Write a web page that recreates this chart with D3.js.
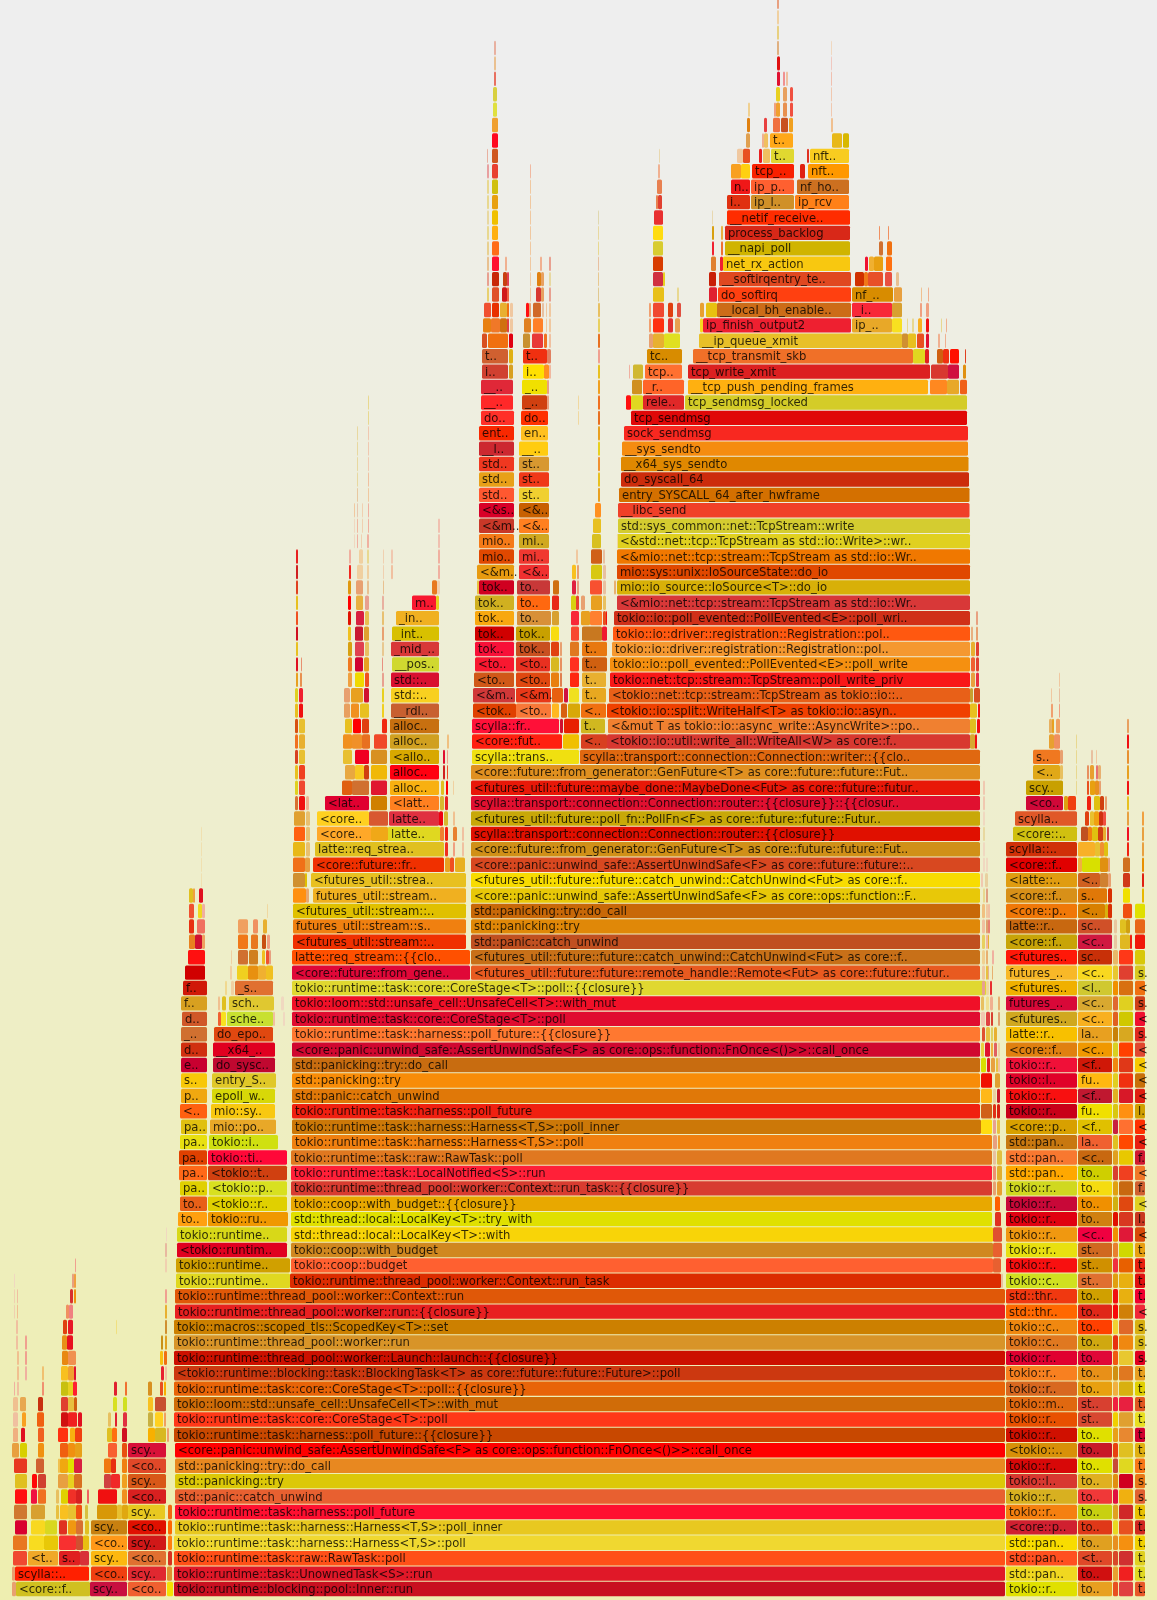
<!DOCTYPE html>
<html><head><meta charset="utf-8">
<script src="https://cdn.jsdelivr.net/npm/d3@7"></script>
<style>html,body{margin:0;padding:0;background:#eee}svg{display:block;filter:blur(0.3px)}</style></head>
<body><svg id="c" width="1157" height="1600"></svg>
<script>
// ---------- long columns: first depth, names, fills, start(s), end(s) (sample offsets) ----------
const lowerNames=["tokio::runtime::blocking::pool::Inner::run","tokio::runtime::task::UnownedTask<S>::run","tokio::runtime::task::raw::RawTask::poll","tokio::runtime::task::harness::Harness<T,S>::poll","tokio::runtime::task::harness::Harness<T,S>::poll_inner","tokio::runtime::task::harness::poll_future","std::panic::catch_unwind","std::panicking::try","std::panicking::try::do_call","<core::panic::unwind_safe::AssertUnwindSafe<F> as core::ops::function::FnOnce<()>>::call_once","tokio::runtime::task::harness::poll_future::{{closure}}","tokio::runtime::task::core::CoreStage<T>::poll","tokio::loom::std::unsafe_cell::UnsafeCell<T>::with_mut","tokio::runtime::task::core::CoreStage<T>::poll::{{closure}}","<tokio::runtime::blocking::task::BlockingTask<T> as core::future::future::Future>::poll","tokio::runtime::thread_pool::worker::Launch::launch::{{closure}}","tokio::runtime::thread_pool::worker::run","tokio::macros::scoped_tls::ScopedKey<T>::set","tokio::runtime::thread_pool::worker::run::{{closure}}","tokio::runtime::thread_pool::worker::Context::run","tokio::runtime::thread_pool::worker::Context::run_task","tokio::coop::budget","tokio::coop::with_budget","std::thread::local::LocalKey<T>::with","std::thread::local::LocalKey<T>::try_with","tokio::coop::with_budget::{{closure}}","tokio::runtime::thread_pool::worker::Context::run_task::{{closure}}","tokio::runtime::task::LocalNotified<S>::run","tokio::runtime::task::raw::RawTask::poll","tokio::runtime::task::harness::Harness<T,S>::poll","tokio::runtime::task::harness::Harness<T,S>::poll_inner","tokio::runtime::task::harness::poll_future","std::panic::catch_unwind","std::panicking::try","std::panicking::try::do_call","<core::panic::unwind_safe::AssertUnwindSafe<F> as core::ops::function::FnOnce<()>>::call_once","tokio::runtime::task::harness::poll_future::{{closure}}","tokio::runtime::task::core::CoreStage<T>::poll","tokio::loom::std::unsafe_cell::UnsafeCell<T>::with_mut","tokio::runtime::task::core::CoreStage<T>::poll::{{closure}}"];
const lowerFills=["#c81020","#e01828","#ff5018","#f0d830","#e8c820","#ff1030","#e86030","#dcc808","#e88820","#ff0000","#c84800","#ff3818","#d06c08","#e86408","#cc3810","#cc1000","#d89428","#cc8000","#e82020","#e05808","#dc2c00","#ff6030","#d08820","#f8d408","#e0e000","#e8a800","#d83c30","#ff2038","#e07820","#f08010","#cc7808","#f02010","#e07808","#f88c08","#c86c10","#d00830","#ff7830","#e00c30","#f01028","#e0d830"];
const lowerStarts=[174,174,174,174,175,175,175,175,175,175,174,174,174,174,174,174,174,174,175,175,290,291,291,291,291,291,291,291,291,292,292,292,292,292,292,292,292,292,292,292];
const lowerEnds=[1005,1005,1005,1005,1005,1005,1005,1005,1005,1005,1005,1005,1005,1005,1005,1005,1005,1005,1005,1005,1001,993,993,993,992,992,992,992,992,992,981,980,980,980,980,980,980,980,980,986];

const upperNames=["<futures_util::future::future::remote_handle::Remote<Fut> as core::future::futur..","<futures_util::future::future::catch_unwind::CatchUnwind<Fut> as core::f..","std::panic::catch_unwind","std::panicking::try","std::panicking::try::do_call","<core::panic::unwind_safe::AssertUnwindSafe<F> as core::ops::function::F..","<futures_util::future::future::catch_unwind::CatchUnwind<Fut> as core::f..","<core::panic::unwind_safe::AssertUnwindSafe<F> as core::future::future::..","<core::future::from_generator::GenFuture<T> as core::future::future::Fut..","scylla::transport::connection::Connection::router::{{closure}}","<futures_util::future::poll_fn::PollFn<F> as core::future::future::Futur..","scylla::transport::connection::Connection::router::{{closure}}::{{closur..","<futures_util::future::maybe_done::MaybeDone<Fut> as core::future::futur..","<core::future::from_generator::GenFuture<T> as core::future::future::Fut.."];
const upperFills=["#e85a20","#c87018","#c05020","#e08808","#c86808","#e8c808","#f8dc00","#d84820","#d09018","#e01000","#c8a808","#e01030","#e81808","#e09020"];

const writeNames=["scylla::transport::connection::Connection::writer::{{clo..","<tokio::io::util::write_all::WriteAll<W> as core::f..","<&mut T as tokio::io::async_write::AsyncWrite>::po..","<tokio::io::split::WriteHalf<T> as tokio::io::asyn..","<tokio::net::tcp::stream::TcpStream as tokio::io::..","tokio::net::tcp::stream::TcpStream::poll_write_priv","tokio::io::poll_evented::PollEvented<E>::poll_write","tokio::io::driver::registration::Registration::pol..","tokio::io::driver::registration::Registration::pol..","tokio::io::poll_evented::PollEvented<E>::poll_wri..","<&mio::net::tcp::stream::TcpStream as std::io::Wr..","mio::io_source::IoSource<T>::do_io","mio::sys::unix::IoSourceState::do_io","<&mio::net::tcp::stream::TcpStream as std::io::Wr..","<&std::net::tcp::TcpStream as std::io::Write>::wr..","std::sys_common::net::TcpStream::write","__libc_send","entry_SYSCALL_64_after_hwframe","do_syscall_64","__x64_sys_sendto","__sys_sendto","sock_sendmsg","tcp_sendmsg","tcp_sendmsg_locked"];
const writeFills=["#e06810","#d83830","#f08030","#f04000","#e86018","#f81818","#f59010","#f59830","#ff5810","#d03018","#d83838","#d8b008","#e04800","#f07800","#e0d020","#d4cc30","#f04028","#d47000","#cc2c0c","#e08800","#f58c10","#f82820","#e00808","#d4cc28"];
const writeStarts=[580,607,608,607,609,610,610,612,613,614,617,617,617,617,617,618,618,619,621,621,622,624,631,685];
const writeEnds=[980,970,970,970,970,970,970,970,970,970,970,970,970,970,970,970,969.5,969.5,969,968.5,968,968,967,967];

const workerNames=["tokio::runtime..","tokio::runtime..","<tokio::runtim..","tokio::runtime..","to..","to..","pa..","pa..","pa..","pa..","pa..","<..","p..","s..","e..","d..","_..","d..","f..","f..",""];
const workerFills=["#e0d820","#d0a000","#e00020","#d8d818","#ffa010","#e86018","#e0d000","#ff6818","#e04000","#e8e010","#e0c010","#ff6010","#f0a810","#f8c808","#c80030","#d03010","#d07030","#d05828","#d8a020","#d01808","#d00000"];
const workerStarts=[176,176,177,177,178,180,180,179,179,180,181,180,181,181,181,181,181,182,181,183,185];
const workerEnds=[290,290,287,287,207,207,207,207,207,207,207,207,207,207,207,207,207,207,207,207,205];

const pollNames=["tokio::ru..","<tokio::r..","<tokio::p..","<tokio::t..","tokio::ti..","tokio::i..","mio::po..","mio::sy..","epoll_w..","entry_S..","do_sysc..","__x64_..","do_epo.."];
const pollFills=["#f09800","#e0d000","#d8e020","#d04010","#ff0838","#d0e010","#e8a828","#f8c810","#d8d808","#e0c828","#c00830","#e00020","#e04810"];
const pollStarts=[208,208,209,208,208,209,210,211,212,212,213,213,214];
const pollEnds=[288,287,287,287,287,278,276,275,275,276,275,275,273];

const rightANames=["tokio::r..","std::pan..","std::pan..","std::pan..","<core::p..","tokio::r..","tokio::r..","tokio::l..","tokio::r..","<tokio::..","tokio::r..","tokio::r..","tokio::m..","tokio::r..","tokio::r..","tokio::r..","tokio::c..","tokio::c..","std::thr..","std::thr..","tokio::c..","tokio::r..","tokio::r..","tokio::r..","tokio::r..","tokio::r..","tokio::r..","std::pan..","std::pan..","std::pan..","<core::p..","tokio::r..","tokio::r..","tokio::l..","tokio::r..","<core::f..","latte::r..","<futures..","futures_..","<futures..","futures_..","<futures..","<core::f..","latte::r..","<core::p..","<core::f..","<latte::..","<core::f..","scylla::.."];
const rightAFills=["#e0e000","#f0d820","#ff5020","#f8dc00","#d02030","#f58010","#d8b020","#d83830","#d80808","#d89008","#d01000","#e85000","#e06810","#d86820","#f88020","#e00030","#e07820","#f08810","#ff6800","#f03810","#d0e020","#f81010","#e8e010","#f09810","#e00010","#c80838","#d0d820","#ffa800","#f87830","#c87810","#d8a000","#c80018","#f81010","#e00028","#f01038","#e08010","#f8c000","#d0a820","#d80838","#f0b000","#f8b828","#ff1808","#c8a408","#c86810","#f07808","#d89018","#e09c10","#e00000","#d03008"];

const rightBNames=["to..","to..","<t..","to..","to..","to..","to..","to..","to..","to..","to..","st..","st..","to..","to..","to..","to..","to..","to..","to..","st..","st..","st..","<c..","to..","to..","to..","to..","<c..","la..","<f..","fu..","<f..","fu..","<f..","<c..","la..","<c..","<c..","<l..","<c..","sc..","<c..","sc.."];
const rightBFills=["#e8a020","#d01010","#e04828","#e0a020","#e03818","#c8d010","#f03838","#e0b020","#e0e000","#c81828","#e0e000","#d84830","#d84030","#e8a010","#e89018","#e00838","#d0a810","#ff4000","#e02818","#d0a000","#e07030","#d09000","#d06820","#f00040","#d08010","#f09000","#f5dc10","#cfcf00","#c86810","#f06030","#e0c000","#f0e000","#c01830","#ffb810","#d01808","#f09800","#e8a020","#f8b020","#d8a830","#d0c830","#f8d820","#c83008","#d01840","#d05028"];

const rightCFills=["#e85020","#e8a030","#d84828","#e89020","#e8d820","#e0a020","#e01040","#e09010","#c84838","#e84010","#e8a018","#f0d000","#f02040","#f0b040","#d09010","#f05810","#e83010","#f0d030","#f80808","#f01010","#e0a010","#f03040","#e88030","#f09000","#e01000","#d0b010","#e0a010","#d84030","#e0a020","#e0c020","#c82040","#d8c810","#e0b020","#e0d020","#f08810","#d8d020","#c88008","#e06020","#e06830","#f09000","#e8c830","#e8b868"];
const rightDFills=["#e04040","#f02020","#d03030","#f59010","#e85020","#d02828","#f0b010","#d00020","#e0d820","#e0c020","#e88830","#e0a030","#e82040","#d8b010","#e07820","#e8c830","#f08810","#e06828","#d08008","#e8b010","#e8b010","#e86000","#d0d800","#e01838","#d83820","#e04810","#c86810","#f04020","#e8c800","#ff4800","#ff7030","#ff9010","#d81828","#f03010","#e03818","#ff4000","#d8a820","#d0c800","#e0d020","#d87010","#e04030","#ff3818"];
const rightENames=["t.","t.","t.","t.","t.","t.","s.","s.","t.","t.","t.","t.","t.","t.","t.","s.","s.","s.","<","t.","t.","t.","t.","<","l.","<","f.","<","f.","<","<","l.","<","<","<","<","s.","<","s.","<","s.","","","",""];
const rightEFills=["#e85828","#e0d820","#e0d020","#f0d000","#d02820","#e8c000","#e06030","#e87818","#f87818","#e0b010","#d00030","#e8e020","#e05820","#e0d000","#e8a020","#e00020","#d8b818","#d8b010","#f02838","#f00030","#e01010","#e82010","#e8a010","#d84808","#c83820","#e0d020","#d06030","#f07828","#d01830","#e82010","#ff3000","#d0a000","#e02010","#c87008","#f8c800","#e04830","#e02820","#f01030","#d04018","#f07010","#d8c820","#d8c808","#f01808","#e86818","#e0e000"];

// ---------- short runs: one line per depth -> [depth, [start,end,name?], ...]; the fills table below has the same lines ----------
const midRows=[
[0,[12,16],[16,90,"<core::f.."],[90,127,"scy.."],[128,166,"<co.."],[167,173]],
[1,[12,15],[15,89,"scylla::.."],[91,127,"<co.."],[128,166,"scy.."],[167,172]],
[2,[13,27],[28,58,"<t.."],[59,80,"s.."],[80,89],[91,127,"scy.."],[128,166,"<co.."],[168,172]],
[3,[13,27],[29,44],[44,58],[59,76],[76,83],[83,89],[91,127,"<co.."],[128,166,"scy.."],[168,172]],
[4,[15,27],[31,45],[45,57],[59,67],[68,76],[76,83],[85,89],[91,127,"scy.."],[128,166,"<co.."],[168,172]],
[5,[14,27],[31,45],[56,59],[60,68],[68,76],[76,82],[85,88],[97,117],[117,122],[122,128],[128,165,"scy.."],[168,172]],
[6,[15,27],[31,37],[38,46],[56,59],[61,68],[68,76],[76,82],[87,89],[98,117],[122,127],[128,166,"<co.."]],
[7,[15,27],[32,37],[38,46],[58,68],[68,74],[74,82],[104,111],[111,120],[122,127],[128,166,"scy.."]],
[8,[14,27],[36,44],[58,60],[60,68],[68,74],[74,82],[104,111],[111,116],[122,127],[128,166,"<co.."]],
[9,[12,19],[20,27],[38,44],[60,68],[68,75],[75,82],[108,117],[122,127],[128,166,"scy.."]],
[10,[13,18],[21,25],[38,44],[58,68],[70,75],[75,82],[107,112],[112,117],[122,127],[148,155],[155,166],[167,169]],
[11,[13,18],[22,26],[37,44],[61,68],[68,77],[78,82],[108,111],[115,117],[123,127],[148,153],[155,163],[164,166]],
[12,[13,18],[20,26],[38,43],[61,68],[68,74],[74,77],[113,117],[123,127],[148,153],[155,166]],
[13,[14,15],[17,19],[42,44],[61,68],[68,73],[73,77],[114,117],[125,127],[148,152],[160,163],[164,166]],
[14,[17,19],[25,27],[42,44],[61,68],[68,74],[74,76],[161,164],[165,167]],
[15,[17,19],[25,27],[62,68],[68,76],[160,163],[164,167]],
[16,[16,18],[25,27],[62,67],[67,73],[161,163],[165,167]],
[17,[16,18],[63,67],[68,73],[116,117],[165,167]],
[18,[14,15],[17,18],[66,69],[69,73],[165,167]],
[19,[14,15],[17,18],[70,73],[74,76],[165,167]],
[20,[14,15],[72,74],[74,76]],
[21,[75,76],[165,167]],
[22,[165,167]],
[23,[166,167]],
// beside the main stack, right edge
[20,[1001,1003]],
[21,[993,1001]],
[22,[993,1002]],
[23,[993,1002]],
[24,[995,1001]],
[25,[995,1000]],
[26,[993,996],[997,1002]],
[27,[993,996],[997,1002]],
[28,[993,996],[997,1002]],
[29,[993,997],[998,1000]],
[30,[981,992],[993,996],[997,1000]],
[31,[981,992],[993,996],[997,1000]],
[32,[981,992],[993,996],[997,1000]],
[33,[981,992],[995,1000]],
[34,[981,986],[987,990],[991,995],[996,998],[998,1000]],
[35,[981,984],[985,990],[991,993],[994,997],[998,1000]],
[36,[982,985],[986,990],[991,993],[994,997]],
[37,[981,985],[986,990],[991,993],[998,1000]],
[38,[981,984],[986,989],[990,993],[998,1000]],
[39,[982,985],[986,989],[990,992]],
[40,[982,985],[986,988],[988,989],[992,993]],
[41,[982,985],[986,988],[992,994]],
[42,[982,985],[986,988],[988,989]],
[43,[982,985],[986,988],[988,990]],
[44,[982,985],[986,988],[988,990]],
[45,[983,985],[986,988]],
[46,[981,983],[985,988]],
[47,[983,985],[986,988]],
[48,[983,985]],[49,[983,985]],[50,[983,985]],[51,[983,985]],[52,[983,985]],
// worker / epoll tower tops
[37,[218,221],[221,226],[227,273,"sche.."],[273,275],[283,285]],
[38,[218,220],[222,226],[229,274,"sch.."],[281,284]],
[39,[225,227],[231,234],[235,273,"_s.."]],
[40,[230,232],[237,248],[248,258],[258,266],[266,273]],
[41,[188,205],[231,232],[238,248],[249,258],[262,265],[266,269],[269,271]],
[42,[189,195],[195,202],[202,205],[238,248],[251,258],[262,266],[267,270]],
[43,[189,194],[197,205],[238,248],[253,258],[263,267]],
[44,[189,194],[198,202],[202,205],[267,268]],
[45,[189,193],[193,195],[199,203]],
[46,[201,202]],[47,[201,202]],[48,[201,202]],[49,[201,202]],
// latte stack
[40,[292,470,"<core::future::from_gene.."]],
[41,[292,470,"latte::req_stream::{{clo.."]],
[42,[293,466,"<futures_util::stream::.."]],
[43,[293,466,"futures_util::stream::s.."]],
[44,[293,466,"<futures_util::stream::.."]],
[45,[293,306],[306,309],[313,466,"futures_util::stream.."]],
[46,[293,305],[305,307],[311,466,"<futures_util::strea.."]],
[47,[293,305],[305,310],[313,444,"<core::future::fr.."],[445,450],[450,454],[455,465]],
[48,[293,305],[306,310],[315,444,"latte::req_strea.."],[445,448],[453,455],[462,464]],
[49,[294,305],[306,310],[317,371,"<core.."],[371,388],[388,440,"latte.."],[440,444],[445,448],[453,457],[462,464]],
[50,[294,305],[306,310],[317,369,"<core.."],[369,388],[389,439,"latte.."],[439,443],[444,448],[453,455]],
[51,[295,298],[299,305],[306,309],[325,369,"<lat.."],[371,387],[390,439,"<latt.."],[440,444],[445,448]],
[52,[295,298],[299,305],[342,352],[352,369],[371,387],[390,439,"alloc.."],[441,444],[446,448],[453,454]],
[53,[295,298],[299,305],[345,355],[355,364],[364,369],[371,387],[390,439,"alloc.."],[443,445],[447,448]],
[54,[295,298],[299,305],[343,352],[355,369],[371,387],[390,439,"<allo.."],[443,445],[447,448]],
[55,[295,298],[299,305],[343,352],[352,362],[362,370],[374,387],[390,439,"alloc.."],[447,449]],
[56,[295,298],[299,305],[345,352],[353,361],[362,369],[382,387],[390,439,"alloc.."]],
[57,[295,298],[299,303],[344,350],[351,359],[360,369],[382,384],[391,439,"__rdl.."]],
[58,[295,298],[299,303],[344,350],[351,363],[364,369],[382,384],[391,439,"std::.."]],
[59,[296,298],[300,302],[348,352],[355,364],[365,369],[382,384],[391,439,"std::.."]],
[60,[296,298],[301,302],[348,352],[355,363],[364,369],[382,383],[392,439,"__pos.."]],
[61,[296,298],[348,352],[355,364],[365,369],[382,384],[391,439,"_mid_.."]],
[62,[296,298],[348,351],[355,363],[364,369],[382,384],[392,439,"_int.."]],
[63,[296,298],[348,351],[356,364],[365,369],[382,384],[396,439,"_in.."]],
[64,[296,298],[348,351],[356,363],[365,369],[382,384],[412,436,"m.."],[436,439]],
[65,[296,298],[348,351],[356,363],[367,369],[383,384],[432,437],[437,440]],
[66,[296,298],[349,351],[357,363],[367,369],[383,384],[391,393],[438,440]],
[67,[296,298],[349,351],[359,363],[367,369],[383,384],[391,393],[438,440]],
[68,[354,355],[357,358],[361,362],[367,369],[438,440]],
[69,[354,355],[357,358],[362,363],[368,369],[438,440]],
[70,[354,355],[357,358],[362,363],[368,369]],
[71,[357,358],[368,369]],[72,[357,358],[368,369]],[73,[357,358],[368,369]],[74,[357,358],[368,369]],[75,[357,358],[368,369]],
[76,[368,369]],[77,[368,369]],
// scylla read towers
[54,[472,579,"scylla::trans.."]],
[55,[472,562,"<core::fut.."],[563,579],[581,607,"<.."],[970,975],[975,977]],
[56,[472,559,"scylla::fr.."],[560,563],[564,579],[581,605,"t.."],[970,976],[977,980]],
[57,[473,516,"<tok.."],[516,551,"<to.."],[552,559],[561,567],[568,580],[581,606,"<.."],[970,977],[978,980]],
[58,[473,515,"<&m.."],[516,551,"<&m."],[552,563],[564,568],[569,579],[582,606,"t.."],[970,973],[974,980]],
[59,[474,514,"<to.."],[516,550,"<to.."],[551,559],[560,562],[570,579],[582,606,"t.."],[971,975],[976,979]],
[60,[475,514,"<to.."],[516,550,"<to.."],[551,559],[560,562],[570,579],[582,607,"t.."],[971,975],[976,979]],
[61,[475,514,"tok.."],[516,550,"tok.."],[551,559],[560,562],[570,579],[582,607,"t.."],[971,975],[976,979]],
[62,[475,514,"tok.."],[516,550,"tok.."],[551,559],[571,579],[582,602],[602,607],[971,973],[976,978]],
[63,[475,514,"tok.."],[517,551,"to.."],[552,559],[571,579],[581,590],[590,602],[603,606],[606,607],[976,978]],
[64,[475,514,"tok.."],[517,550,"to.."],[552,559],[571,576],[576,579],[581,585],[591,602],[603,606]],
[65,[477,479],[479,514,"tok.."],[517,550,"to.."],[553,559],[572,576],[577,579],[590,602],[603,606],[614,616]],
[66,[477,514,"<&m.."],[519,549,"<&.."],[572,576],[577,579],[591,602],[603,606]],
[67,[479,514,"mio.."],[519,549,"mi.."],[576,578],[591,602],[603,605]],
[68,[479,514,"mio.."],[519,549,"mi.."],[592,601],[617,618]],
[69,[479,514,"<&m.."],[519,549,"<&.."],[593,601]],
[70,[479,514,"<&s.."],[519,549,"<&.."],[595,601]],
[71,[479,514,"std.."],[519,549,"st.."],[598,600]],
[72,[479,514,"std.."],[519,549,"st.."],[598,600]],
[73,[479,514,"std.."],[519,549,"st.."],[598,600]],
[74,[479,514,"__l.."],[519,548,"__.."],[598,600]],
[75,[479,514,"ent.."],[521,548,"en.."],[598,600]],
[76,[481,514,"do.."],[521,548,"do.."],[598,600],[578,579]],
[77,[481,513,"__.."],[522,547,"_.."],[547,549],[598,600],[578,579]],
[78,[481,513,"__.."],[522,547,"_.."],[547,549],[598,600]],
[79,[482,508,"i.."],[509,513],[523,544,"i.."],[544,549],[549,551],[598,600]],
[80,[482,508,"t.."],[509,513],[523,547,"t.."],[547,551],[598,600]],
[81,[482,487],[488,508],[509,513],[523,530],[532,543],[544,547],[549,551],[598,600]],
[82,[483,491],[491,500],[500,507],[507,509],[510,513],[524,531],[533,543],[546,547],[549,551],[598,600]],
[83,[484,491],[492,499],[500,507],[507,509],[510,513],[526,529],[529,531],[533,541],[542,544],[546,547],[549,551],[598,600]],
[84,[487,489],[492,499],[502,507],[507,509],[530,531],[536,541],[541,544],[549,551],[598,599]],
[85,[487,489],[492,499],[503,507],[507,509],[530,531],[537,541],[541,544],[549,551],[598,599]],
[86,[487,489],[492,499],[505,507],[530,531],[540,542],[549,551],[598,599]],
[87,[487,489],[492,499],[530,531],[598,599]],
[88,[487,489],[492,498],[530,531],[598,599]],
[89,[487,489],[492,498],[530,531],[598,599]],
[90,[487,489],[492,498],[530,531]],
[91,[487,489],[492,498],[530,531]],
[92,[487,489],[492,498],[530,531]],
[93,[487,488],[492,498]],
[94,[492,498]],[95,[492,498]],[96,[493,497]],[97,[493,497]],[98,[494,496]],[99,[494,496]],[100,[494,496]],
// kernel network stack
[77,[626,631],[631,643],[643,684,"rele.."]],
[78,[632,642],[643,684,"_r.."],[688,928,"__tcp_push_pending_frames"],[930,947],[947,959],[960,967]],
[79,[629,630],[633,643],[645,682,"tcp.."],[688,930,"tcp_write_xmit"],[931,948],[948,959],[963,966]],
[80,[647,682,"tc.."],[693,913,"__tcp_transmit_skb"],[913,925],[925,929],[937,943],[943,949],[950,959],[965,966]],
[81,[649,653],[653,664],[664,680],[699,902,"__ip_queue_xmit"],[902,908],[908,916],[917,924],[926,929],[938,940],[945,946]],
[82,[649,651],[653,664],[668,673],[675,680],[700,703],[703,851,"ip_finish_output2"],[852,892,"ip_.."],[892,902],[907,908],[912,914],[918,922],[926,929],[941,942],[946,947]],
[83,[649,651],[653,664],[668,673],[677,681],[700,704],[706,717],[717,851,"__local_bh_enable.."],[852,892,"_i.."],[892,902],[920,922],[926,929]],
[84,[653,664],[677,679],[709,717],[718,851,"do_softirq"],[852,893,"nf_.."],[894,902],[921,922],[928,929]],
[85,[653,663],[663,665],[709,716],[719,851,"__softirqentry_te.."],[855,864],[864,868],[868,883],[885,892],[896,899]],
[86,[653,663],[711,716],[720,723],[723,850,"net_rx_action"],[865,868],[869,874],[874,883],[886,892]],
[87,[653,663],[712,714],[721,723],[725,850,"__napi_poll"],[879,883],[887,892]],
[88,[653,663],[712,714],[721,723],[725,850,"process_backlog"],[879,880],[888,889]],
[89,[654,663],[712,713],[727,850,"__netif_receive.."]],
[90,[656,658],[658,662],[727,750,"i.."],[751,794,"ip_l.."],[795,849,"ip_rcv"]],
[91,[657,662],[731,750,"n.."],[751,794,"ip_p.."],[797,849,"nf_ho.."]],
[92,[658,660],[731,741],[741,750],[752,794,"tcp_.."],[800,805],[808,849,"nft.."]],
[93,[659,660],[737,743],[743,750],[759,762],[763,770],[771,794,"t.."],[807,809],[810,849,"nft.."]],
[94,[746,750],[762,764],[764,768],[770,793,"t.."],[832,842],[843,849]],
[95,[747,750],[764,767],[773,780],[781,788],[789,793],[831,833]],
[96,[748,750],[774,776],[776,780],[783,787],[790,793],[831,832]],
[97,[776,780],[783,787],[790,793],[831,832]],
[98,[777,780],[783,785],[786,788],[831,832]],
[99,[777,780],[831,832]],
[100,[777,779],[831,832]],
[101,[777,779]],[102,[777,779]],[103,[777,779]],
// right clusters above the constant columns
[42,[1114,1117],[1120,1130],[1130,1132]],
[43,[1114,1117],[1120,1126],[1126,1130]],
[44,[1078,1105,"<.."],[1105,1108],[1108,1112],[1123,1132]],
[45,[1078,1107,"s.."],[1108,1112],[1123,1130],[1142,1144]],
[46,[1078,1100,"<.."],[1100,1108],[1108,1111],[1123,1130],[1142,1144]],
[47,[1078,1082],[1082,1100],[1100,1108],[1108,1110],[1123,1130],[1142,1144]],
[48,[1078,1095],[1095,1100],[1100,1104],[1104,1108],[1127,1129],[1142,1144]],
[49,[1013,1077,"<core::.."],[1081,1088],[1088,1092],[1092,1098],[1098,1103],[1103,1106],[1107,1109],[1127,1129],[1142,1144]],
[50,[1015,1077,"scylla.."],[1085,1089],[1090,1094],[1094,1099],[1099,1103],[1103,1106],[1127,1129],[1142,1144]],
[51,[1026,1063,"<co.."],[1064,1068],[1068,1076],[1087,1091],[1094,1100],[1100,1104],[1105,1107],[1127,1129]],
[52,[1026,1063,"scy.."],[1076,1077],[1087,1089],[1090,1095],[1095,1099],[1099,1101],[1127,1129]],
[53,[1033,1060,"<.."],[1060,1063],[1076,1077],[1087,1089],[1090,1094],[1096,1098],[1098,1101],[1127,1129]],
[54,[1033,1060,"s.."],[1060,1063],[1076,1077],[1091,1093],[1096,1097],[1127,1129]],
[55,[1049,1054],[1054,1060],[1076,1077],[1127,1129]],
[56,[1049,1052],[1052,1054],[1056,1060],[1127,1129]],
[57,[1051,1053],[1059,1060]],
[58,[1051,1052],[1059,1060]],
[59,[1059,1060]]
];
const midRowFills=[
["#e8a070","#d0c020","#c81040","#f06030","#f5e000"],
["#e8a070","#ff2000","#f04010","#e02830","#e09030"],
["#f04830","#f0a828","#e02020","#d83038","#fcb810","#e07030","#d83020"],
["#e87820","#f8dc20","#e8c808","#f83030","#d05030","#e8c010","#ff9818","#d01818","#ff8010"],
["#d80030","#f8d820","#d8d820","#e03020","#f09810","#d87030","#e0c020","#c88010","#e01000","#ff6800"],
["#d07830","#d8a030","#e8c040","#f8c020","#e8c030","#f05010","#d8c040","#d89808","#e8c030","#e0a810","#e8c820","#f06810"],
["#ff1010","#f01040","#f07020","#e8c060","#e0d000","#f03028","#d82020","#f06060","#f01010","#f09020","#d82020"],
["#e0c020","#ff0808","#d04030","#e8a040","#e8d020","#d87020","#d04040","#f02828","#f0a020","#d85818"],
["#e83820","#d06030","#f0c050","#f0a810","#e0e000","#d82040","#f07810","#e83010","#f08010","#e04828"],
["#e8a040","#d8d000","#f09010","#f06010","#f09010","#e8a018","#f86030","#e85010","#d81038"],
["#f0b080","#e01020","#f06020","#ff3010","#f8b010","#f04010","#e0c020","#ff7010","#d01020","#f8b000","#d8b820","#f0a070"],
["#f0c0a0","#f8a020","#f06010","#d01010","#f02020","#e01020","#e8c060","#e02030","#e03040","#c8b040","#ffd020","#f0a060"],
["#f0c090","#e8a850","#c83010","#e04030","#e8c040","#d06010","#d8e020","#d0e020","#f8c020","#c85030"],
["#f0b0a0","#f0c0a0","#f09070","#c8c010","#e8d020","#ff2030","#e02030","#f07030","#d89020","#e85020","#f8b000"],
["#f0c090","#f0b0a0","#f0c070","#f8c020","#f0a030","#e01030","#e82030","#f0c0a0"],
["#f0c090","#f0a090","#e88810","#f09050","#f8c010","#f07010"],
["#f0c0a0","#f0a090","#e89018","#e81020","#c89018","#e0a020"],
["#f0c0a0","#e04010","#e81828","#f0e080","#d09030"],
["#f0d0b0","#f0c090","#f09060","#f08080","#e8b030"],
["#f0d0b0","#f0c0a0","#d83030","#f09010","#f0a090"],
["#f0d8c0","#e8a080","#f0a040"],
["#f0a090","#f0d0b0"],
["#e8b8a0"],
["#f0d8c0"],
["#e8c0a0"],
["#e86030"],
["#e86030"],
["#e05030"],
["#e03020"],
["#ff6000"],
["#e8a070","#e8a030"],
["#f09070","#e0b030"],
["#e8c0a0","#e0c040"],
["#e8a080","#f0a030"],
["#ffdc10","#e8a090","#e8c040"],
["#d06018","#e03018","#d82010"],
["#ffb818","#e8d0a0","#c81828"],
["#f01000","#e0a030"],
["#d8e000","#e02020","#e8a040","#e8c040","#f0c0a0"],
["#e8d040","#e01030","#f0b040","#e06060","#f0d0a0"],
["#e05030","#e8c040","#e0d060","#e8b030"],
["#f0c8b0","#e04040","#d84030","#e0a070"],
["#e8c060","#f0e090","#f0b090"],
["#e8a090","#f0d8a0","#e83030","#e8a040"],
["#f0c8a0","#e8c040","#e8b090"],
["#f0d090","#e8b070","#f0b0a0"],
["#e8d060","#f0b8a0","#e8b030"],
["#f0c0a0","#e0a070","#e88070"],
["#f0c080","#f0c8a0","#f0c0a0"],
["#e8d890","#e0a080"],
["#f0c8b0","#e8d0a0"],
["#f0d8c0","#f0d8c0"],
["#f0d8c0"],["#e8d8a0"],["#f0d8c0"],["#f0c8b0"],["#f0c8b0"],
// worker / epoll tower tops
["#f06030","#f8e020","#c8e030","#f0c0a0","#f0d8c0"],
["#f0c090","#e0c020","#e0c830","#f0d8c0"],
["#f0d890","#f0d0a0","#e07030"],
["#f0d0a0","#f0d020","#e89010","#f0b030","#f0c020"],
["#ff1010","#f0d0a0","#d07030","#d08020","#f0c020","#f05030","#e8a080"],
["#e88020","#d01030","#f0a060","#f07818","#e87820","#c85010","#f0a080"],
["#e83010","#f07060","#f0a060","#f09060","#e8b030"],
["#f05030","#f0d820","#f0b0a0","#f0d8a0"],
["#e0c020","#f0a040","#e01020"],
["#f0e0b0"],["#f0e0b0"],["#f0e0b0"],["#f0e0b0"],
// latte stack
["#e00838"],
["#ff5000"],
["#f03000"],
["#f08010"],
["#e0c000"],
["#ff9010","#e8a870","#f0b020"],
["#d09030","#e0c000","#e8c020"],
["#f07018","#e8a040","#f03000","#e8a020","#f05020","#e8b020"],
["#e8b818","#e8c070","#e0c020","#f03020","#f0a080","#f0c0a0"],
["#ff6010","#e8c070","#ffa828","#f0a818","#e0d820","#f08030","#f02010","#e88030","#f0c0a0"],
["#e0a030","#e8c070","#ffd020","#d85830","#e03040","#f00010","#d8b830","#f0c090"],
["#d87030","#f01010","#f0b090","#e00030","#d08000","#ff8020","#d8b830","#e82020"],
["#e0d020","#f04830","#e06010","#d07030","#e01830","#f8b010","#e0c020","#ff0000","#f0d0a0"],
["#e8c020","#f04020","#e8a840","#f8c820","#d04010","#f0b808","#ff0010","#d02020","#f05030"],
["#d84020","#e8c030","#e8c030","#f00020","#f0b808".replace("f0b808","d89020"),"#d8a800","#e01030","#f0a090"],
["#f07020","#e8b030","#f09020","#f09028","#e87020","#f04828","#d0a020","#f0c080"],
["#d85010","#e8c030","#e8c020","#ff0000","#e04010","#f02810","#c87010"],
["#e8c020","#f01010","#e8a060","#f09020","#e8c020","#f0d020","#c86030"],
["#e0d020","#f02030","#e8a070","#e8a020","#d01030","#e8d020","#f8d020"],
["#e8a020","#e89050","#f0a040","#f0d800","#f05020","#e8a090","#d81030"],
["#e01020","#e89070","#f07820","#d00030","#e8a020","#e89080","#d0d830"],
["#e8c020","#d8a010","#e04050","#e8c060","#e8c890","#d83838"],
["#d01020","#f0c020","#c81830","#e0a030","#e8a070","#d8c000"],
["#f05020","#e01000","#d82040","#e8c050","#e8c070","#f0b020"],
["#e8c020","#ff0000","#e8b040","#e8a090","#e8b0a0","#f81830","#e8d020"],
["#e04020","#e09810","#e8a070","#e8c090","#e8c090","#e87820","#f0d0b0"],
["#d02020","#f02820","#f0d0a0","#f0d0a0","#f0d0b0","#f0c0a0","#f0b0a0"],
["#e82020","#f0b0a0","#f0d0a0","#e8d890","#f0d0b0","#f0c8b0","#f0b0a0"],
["#f0d8c0","#f0b0a0","#f0d0b0","#f0b0a0","#f0c0b0"],
["#f0d8c0","#f0b8a0","#f0d0b0","#f0b0a0","#f0c0b0"],
["#f0c8a0","#e8c8b0","#f0d0b0","#f0b0a0"],
["#e8c8a0","#f0c8a0"],["#e8d8a0","#f0c0a0"],["#e8d8a0","#f0c8b0"],["#e8d8a0","#f0c8b0"],["#e8d8a0","#f0c8b0"],
["#e8d890"],["#e8d890"],
// scylla read towers
["#f0e010"],
["#ff2010","#f0c000","#d84020","#d8a830","#f01010"],
["#ff1038","#d01030","#e82000","#d0b820","#e0c020","#f01010"],
["#e04000","#f87838","#ffb820","#d86010","#d8a808","#f07010","#e8c020","#f01010"],
["#d03838","#e83818","#e86010","#d01040","#f0e020","#e8a820","#c8a030","#d85020"],
["#d05818","#e04810","#e88010","#e08050","#ff2810","#e8b030","#e8a040","#e83040"],
["#f81830","#e83020","#d8b820","#e89060","#ff3020","#d06010","#f06030","#e04030"],
["#f81038","#c85020","#e04010","#e8a070","#e07820","#e87810","#e8b030","#e04030"],
["#d00000","#c8a000","#f8dc10","#f84830","#c87820","#f01830","#e8b080","#e8a070"],
["#f8a810","#d89038","#d8a030","#f82838","#e8a020","#ff8030","#e85020","#f01010","#e8a080"],
["#d0b020","#ff6810","#e82818","#d8d010","#e84030","#e8a070","#e8a020","#e8c060"],
["#e8c040","#d00020","#c83838","#d07010","#e02040","#e8a080","#f85030","#e8c0a0","#e8b070"],
["#e89a10","#f03030","#f8c020","#e8a070","#d8c810","#e8c0a0"],
["#e04800","#f03830","#f0c8a0","#d06018","#e8c0a0"],
["#f57a18","#d0a820","#d8c020","#f0d8a0"],
["#c83828","#ff8020","#e8c020"],
["#d80028","#c86000","#ff9020"],
["#ff5830","#f0d030","#e8a020"],
["#e8a018","#f03818","#e8c020"],
["#f03820","#d89830","#f09030"],
["#cc2830","#ffcc10","#e8d020"],
["#f82800","#ffc020","#e8a020"],
["#ff3028","#ff3000","#e87020","#f0d8a0"],
["#ff2828","#d04010","#e8a080","#f07020","#f0d8a0"],
["#e02838","#f0e000","#e8a080","#f0a020"],
["#d04030","#d8a020","#ffe000","#ff9020","#f0b8a0","#e8c020"],
["#d06030","#e0b010","#f03010","#e08060","#f0a090","#e8d020"],
["#d85020","#f07010","#e00010","#c89030","#e83838","#f07020","#f0c0a0","#e87020"],
["#e88010","#f07828","#d07010","#e04040","#f0c8a0","#e08020","#ff8028","#f0c8a0","#f0c8a0","#e8d060"],
["#f05030","#e83000","#e8b030","#f07010","#f0c8a0","#ff1010","#e8a070","#d06828","#e8c0a0","#f0c8a0","#f0c8a0","#e8c060"],
["#e8d070","#e05028","#d01818","#f06040","#f0c8a0","#d83830","#e8a060","#e8a090","#e0c890"],
["#e8a090","#c82808","#c84010","#e04050","#f0c8a0","#e08010","#e8a060","#e8d8a0","#e8c890"],
["#e8c090","#ff1030","#f0b090","#f0c8a0","#f0b090","#e8a090","#e8c0a0"],
["#e8d090","#ff6c18","#f0c8a0","#e8d890"],
["#e8d890","#ffb010","#f0c8a0","#e8d8a0"],
["#e8d8a0","#f0c000","#f0c8a0","#e0d8b0"],
["#e8d890","#e8a010","#f0c8a0"],
["#e8d890","#d0c010","#f0c8a0"],
["#e8a0a0","#e84030","#f0b8a0"],
["#e8b0a0","#d05820"],
["#ff0820"],["#f0a030"],["#e0e040"],["#d8d040"],["#e87060"],["#eac090"],["#e8b0a0"],
// kernel network stack
["#ff1010","#e0d820","#e02828"],
["#d09020","#ff6428","#ffb010","#ff8820","#e8a828","#f06018"],
["#f0b0a0","#d0b830","#ff7030","#dc2020","#d83830","#d01040","#e09010"],
["#d88c00","#f07028","#e0d820","#e02020","#d06010","#f03010","#ff1000","#e04020"],
["#e8a070","#e8b030","#e0e020","#e8c028","#d09030","#e8c020","#e85020","#e01030","#f0b090","#f0b090"],
["#f0a070","#ff3010","#e03030","#e8a050","#f8d820","#ee2030","#e8a828","#f8e020","#e8d890","#e8d890","#f8b020","#f01010","#e8d890","#f0b090"],
["#f0a070","#f04830","#e04010","#e05040","#e8a030","#e8c010","#cc6c18","#f82838","#d8a030","#f0a080","#f0a080"],
["#e8c018","#e8d890","#e02030","#ff4010","#d88c00","#e8a040","#f0c090","#f0b090"],
["#d03040","#e8d020","#c82008","#e04820","#d03000","#f07818","#e85028","#e85040","#e8c090"],
["#d83c00","#e08030","#f02030","#f8c810","#f01030","#f0b030","#e8a010","#ff7010"],
["#d8cc30","#f02030","#f07030","#d0b400","#d07030","#f07010"],
["#ffdc10","#d8a010","#e8b040","#d82818","#f09060","#f09060"],
["#e83030","#e8d8b0","#ff2c00"],
["#e88050","#e04030","#e03010","#d09028","#ff8018"],
["#e88050","#f01818","#ff6030","#cc7020"],
["#f0b090","#f8a020","#ffd010","#f82000","#e02010","#ff9800"],
["#e8d8b0","#f0c8a0","#e85020","#e82020","#f0c060","#e0d830","#e03020","#f8cc20"],
["#e0a050","#f0b090","#f0c060","#ffa818","#e8b818","#d8b800"],
["#e08010","#e84040","#f07040","#c85020","#f0a020","#f0c090"],
["#f0d090","#f0a080","#f0a030","#e89050","#f05040","#f0c8b0"],
["#e8d020","#e8a060","#f05040","#f0c8b0"],
["#e01030","#f09090","#f0c0a0","#f0c0b0"],
["#e01010","#f0c8c0"],
["#e0b080","#f0d8c0"],
["#e8d080"],["#f0d0a0"],["#e8a080"],
// right clusters
["#e8c8a0","#e0b820","#f02010"],
["#e8c8a0","#e0c020","#d0a010"],
["#d88000","#d8b010","#d83000","#f05010"],
["#e07808","#d83000","#f0e000","#e8b800"],
["#d06020","#d08030","#e8a070","#d03818","#e02010"],
["#f0b040","#d8e000","#e09010","#e8a070","#d07020","#e89000"],
["#f8b028","#e8c030","#f09030","#e0c010","#f02010","#e8a040"],
["#d0c010","#c05020","#f08010","#e0c010","#d04010","#e8b030","#d04040","#f01020","#e8a040"],
["#e05828","#e04010","#e8c030","#f0a010","#d03010","#f05040","#e8a040","#f0a040"],
["#d00838","#e0a010","#f04010","#f02010","#e0c010","#d04010","#e8a070","#e8c020"],
["#c8a000","#e8d890","#e85020","#e8a010","#e89020","#e8a070","#f01010"],
["#e0a818","#e8c060","#e8d890","#e89060","#e8a030","#e87070","#e8b070","#e8a020"],
["#f07820","#e8a070","#e8d890","#e8c0a0","#f0c8a0","#e89030"],
["#e8a030","#f09060","#e8d890","#f01010"],
["#e8b060","#e8a020","#f0a060","#e8a060"],
["#f0a070","#f0a080"],
["#f0c8a0","#e8c0a0"],
["#f0c8a0"]
];

// ---------- build one flat list of frames from the arrays above ----------
const frames=[];
function addColumn(firstDepth,names,fills,starts,ends){
  fills.forEach((fill,i)=>frames.push({
    depth:firstDepth+i,name:names?names[i]||"":"",fill,
    start:Array.isArray(starts)?starts[i]:starts,
    end:Array.isArray(ends)?ends[i]:ends}));
}
addColumn(0,lowerNames,lowerFills,lowerStarts,lowerEnds);
addColumn(40,upperNames,upperFills,471,980);
addColumn(54,writeNames,writeFills,writeStarts,writeEnds);
addColumn(20,workerNames,workerFills,workerStarts,workerEnds);
addColumn(24,pollNames,pollFills,pollStarts,pollEnds);
addColumn(0,rightANames,rightAFills,1006,1077);
addColumn(0,rightBNames,rightBFills,1078,1112);
addColumn(0,null,rightCFills,1113,1118);
addColumn(0,null,rightDFills,1119,1133);
addColumn(0,rightENames,rightEFills,1135,1145);
midRows.forEach((row,i)=>{
  row.slice(1).forEach((f,j)=>frames.push({depth:row[0],start:f[0],end:f[1],name:f[2]||"",fill:(midRowFills[i]||[])[j]||"#e8b070"}));
});

// ---------- draw ----------
const width=1157,height=1600;
const x=d3.scaleLinear().domain([0,width]).range([0,width]);
const y=d3.scaleLinear().domain([0,103]).range([1589,1.77]);
const rowH=14.4;
const svg=d3.select("#c");
const grad=svg.append("defs").append("linearGradient").attr("id","bg").attr("x1","0").attr("y1","0").attr("x2","0").attr("y2","1");
grad.append("stop").attr("offset","5%").attr("stop-color","#eeeeee");
grad.append("stop").attr("offset","95%").attr("stop-color","#eeeeb0");
svg.append("rect").attr("width",width).attr("height",height).attr("fill","url(#bg)");
const g=svg.selectAll("g.frame").data(frames).join("g").attr("class","frame");
g.append("rect")
 .attr("x",d=>x(d.start)).attr("y",d=>y(d.depth)-rowH/2)
 .attr("width",d=>x(d.end)-x(d.start)).attr("height",rowH)
 .attr("rx",1.5).attr("ry",1.5).attr("fill",d=>d.fill);
g.filter(d=>d.name).append("text")
 .attr("x",d=>x(d.start)+3).attr("y",d=>y(d.depth)+4)
 .attr("font-family","'DejaVu Sans',Verdana,sans-serif").attr("font-size",11.6)
 .attr("fill","#000").attr("fill-opacity",0.8).text(d=>d.name);
</script></body></html>
